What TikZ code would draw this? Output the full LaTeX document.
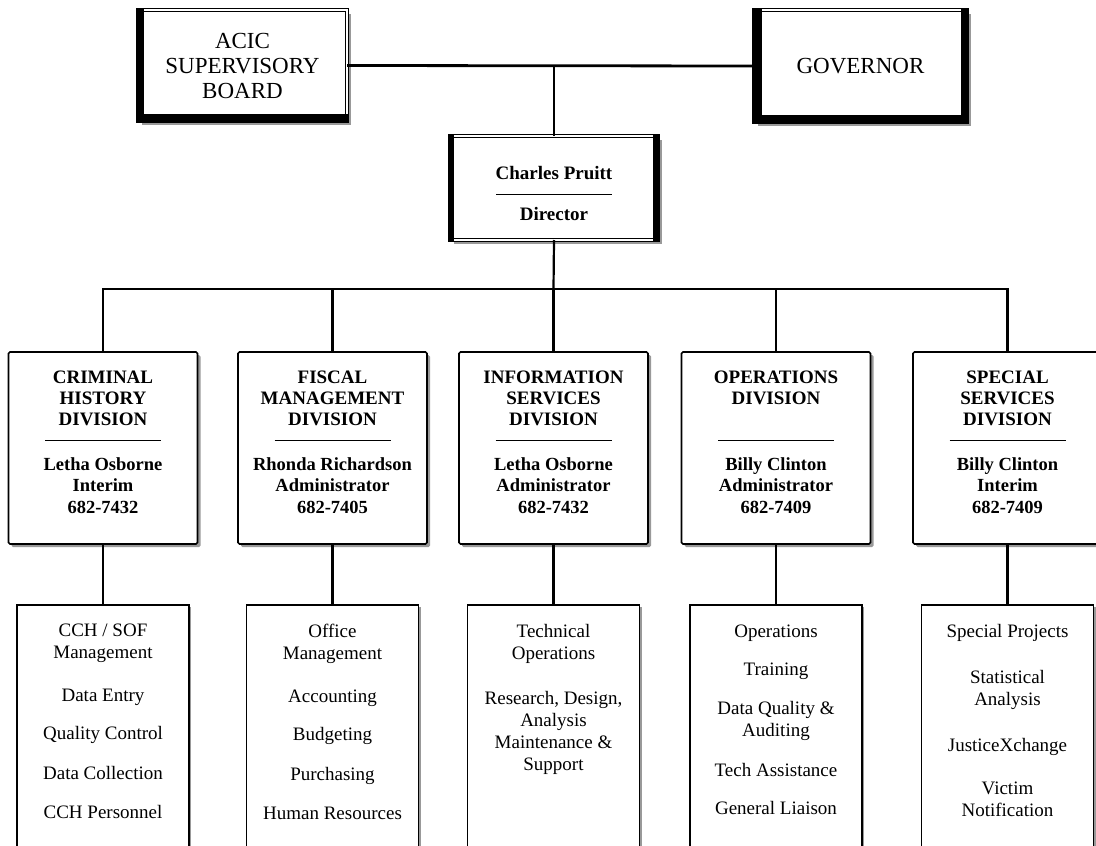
\documentclass[tikz,border=0pt]{standalone}
\usepackage{fontspec}
\setmainfont{Liberation Serif}
\usetikzlibrary{positioning,shadows}

\tikzset{
  topbox/.style={draw, fill=white, line width=0.9pt, double, double distance=1.6pt,
    align=center, inner sep=0pt, outer sep=0pt, font=\fontsize{23}{25}\selectfont,
    drop shadow={shadow xshift=4pt, shadow yshift=-4pt, fill=black!40, opacity=1}},
  divbox/.style={draw, fill=white, line width=1.7pt, rounded corners=1.5pt,
    minimum width=189, minimum height=192, outer sep=0pt,
    drop shadow={shadow xshift=3pt, shadow yshift=-3pt, fill=black!40, opacity=1}},
  taskbox/.style={draw, fill=white, line width=1.2pt, minimum width=172,
    minimum height=300, outer sep=0pt,
    drop shadow={shadow xshift=2pt, shadow yshift=-2pt, fill=black!40, opacity=1}},
  divhead/.style={align=center, inner sep=0pt, font=\bfseries\fontsize{19}{21}\selectfont},
  divname/.style={align=center, inner sep=0pt, font=\bfseries\fontsize{18.5}{21.5}\selectfont},
  dirtext/.style={inner sep=0pt, font=\bfseries\fontsize{19}{22}\selectfont},
  tasklist/.style={align=center, inner sep=0pt, font=\fontsize{19}{22}\selectfont},
  sepline/.style={line width=1pt},
  toplink/.style={line width=2.8pt},
  link/.style={line width=2.2pt}
}

\begin{document}
\begin{tikzpicture}[x=1pt, y=-1pt, node distance=61pt]
  \useasboundingbox (0,0) rectangle (1096,846);
  \clip (0,0) rectangle (1096,846);

  % top level
  \node[topbox, minimum width=209, minimum height=111] (acic) at (242.5,65.5)
    {ACIC\\SUPERVISORY\\BOARD};
  \node[topbox, minimum width=213, minimum height=112] (gov) at (860.5,66) {GOVERNOR};
  \node[topbox, minimum width=208, minimum height=104] (dir) at (554,188) {};
  % heavy sides of the frames
  \fill ([shift={(-1.7pt,1.7pt)}]acic.north west) rectangle ([shift={(6pt,-1.7pt)}]acic.south west);
  \fill ([shift={(-1.7pt,-1.7pt)}]acic.south west) rectangle ([shift={(1.7pt,7pt)}]acic.south east);
  \fill ([shift={(-1.7pt,1.7pt)}]gov.north west) rectangle ([shift={(8pt,-1.7pt)}]gov.south west);
  \fill ([shift={(1.7pt,1.7pt)}]gov.north east) rectangle ([shift={(-6pt,-1.7pt)}]gov.south east);
  \fill ([shift={(-1.7pt,-1.7pt)}]gov.south west) rectangle ([shift={(1.7pt,7pt)}]gov.south east);
  \fill ([shift={(-1.7pt,1.7pt)}]dir.north west) rectangle ([shift={(4pt,-1.7pt)}]dir.south west);
  \fill ([shift={(1.7pt,1.7pt)}]dir.north east) rectangle ([shift={(-5pt,-1.7pt)}]dir.south east);
  \node[dirtext, anchor=north] (dirName) at ([yshift=-30pt]dir.north) {Charles Pruitt};
  \node[dirtext, anchor=north] (dirRole) at ([yshift=-71pt]dir.north) {Director};
  \draw[sepline] ([xshift=-58pt,yshift=-58pt]dir.north) -- ([xshift=58pt,yshift=-58pt]dir.north);

  \draw[toplink] (acic.east) -- (gov.west);
  \draw[toplink] (dir.north) -- (dir.north |- acic.east);

  % divisions
  \node[divbox] (crim) at (103,448) {};
  \node[divbox] (fisc) at (332.5,448) {};
  \node[divbox] (info) at (553.5,448) {};
  \node[divbox] (oper) at (776,448) {};
  \node[divbox] (spec) at (1007.5,448) {};

  \node[divhead, anchor=north] (crimH) at ([yshift=-19pt]crim.north) {CRIMINAL\\HISTORY\\DIVISION};
  \node[divhead, anchor=north] (fiscH) at ([yshift=-19pt]fisc.north) {FISCAL\\MANAGEMENT\\DIVISION};
  \node[divhead, anchor=north] (infoH) at ([yshift=-19pt]info.north) {INFORMATION\\SERVICES\\DIVISION};
  \node[divhead, anchor=north] (operH) at ([yshift=-19pt]oper.north) {OPERATIONS\\DIVISION};
  \node[divhead, anchor=north] (specH) at ([yshift=-19pt]spec.north) {SPECIAL\\SERVICES\\DIVISION};

  \node[divname, anchor=north] (crimN) at ([yshift=-105pt]crim.north) {Letha Osborne\\Interim\\682-7432};
  \node[divname, anchor=north] (fiscN) at ([yshift=-105pt]fisc.north) {Rhonda Richardson\\Administrator\\682-7405};
  \node[divname, anchor=north] (infoN) at ([yshift=-105pt]info.north) {Letha Osborne\\Administrator\\682-7432};
  \node[divname, anchor=north] (operN) at ([yshift=-105pt]oper.north) {Billy Clinton\\Administrator\\682-7409};
  \node[divname, anchor=north] (specN) at ([yshift=-105pt]spec.north) {Billy Clinton\\Interim\\682-7409};

  \foreach \n in {crim,fisc,info,oper,spec}
    \draw[sepline] ([xshift=-58pt,yshift=-88pt]\n.north) -- ([xshift=58pt,yshift=-88pt]\n.north);

  % bus to divisions
  \coordinate (bus) at (553.5,289);
  \draw[link] (dir.south) -- (bus);
  \draw[link] (crim.north) |- (bus) -| (spec.north);
  \foreach \n in {fisc,info,oper}
    \draw[link] (\n.north) -- (\n.north |- bus);

  % sections
  \node[taskbox, below=of crim] (crimT) {};
  \node[taskbox, below=of fisc] (fiscT) {};
  \node[taskbox, below=of info] (infoT) {};
  \node[taskbox, below=of oper] (operT) {};
  \node[taskbox, below=of spec] (specT) {};

  \foreach \n in {crim,fisc,info,oper,spec}
    \draw[link] (\n.south) -- (\n T.north);

  \node[tasklist, anchor=north] (crimL) at ([yshift=-19pt]crimT.north)
    {CCH / SOF\\Management\\[21pt]Data Entry\\[16pt]Quality Control\\[18pt]Data Collection\\[17pt]CCH Personnel};
  \node[tasklist, anchor=north] (fiscL) at ([yshift=-19pt]fiscT.north)
    {Office\\Management\\[21pt]Accounting\\[16pt]Budgeting\\[18pt]Purchasing\\[17pt]Human Resources};
  \node[tasklist, anchor=north] (infoL) at ([yshift=-19pt]infoT.north)
    {Technical\\Operations\\[23pt]Research, Design,\\Analysis\\Maintenance \&\\Support};
  \node[tasklist, anchor=north] (operL) at ([yshift=-20pt]operT.north)
    {Operations\\[16pt]Training\\[17pt]Data Quality \&\\Auditing\\[18pt]Tech Assistance\\[16pt]General Liaison};
  \node[tasklist, anchor=north] (specL) at ([yshift=-19pt]specT.north)
    {Special Projects\\[24pt]Statistical\\Analysis\\[24pt]JusticeXchange\\[21pt]Victim\\Notification};
\end{tikzpicture}
\end{document}
